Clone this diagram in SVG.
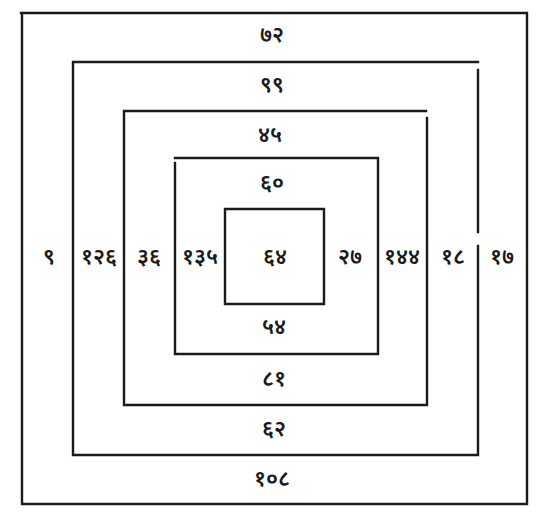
<svg xmlns="http://www.w3.org/2000/svg" width="548" height="526" viewBox="0 0 548 526">
<style>
.ln{stroke:#1a1a1a;stroke-width:2.4;fill:none;stroke-linecap:square}
.t{font-family:"Noto Sans Devanagari","Lohit Devanagari","Noto Sans","DejaVu Sans",sans-serif;font-size:22px;font-weight:600;fill:#1a1a1a;text-anchor:middle;dominant-baseline:central}
</style>
<rect width="548" height="526" fill="#ffffff"/>
<g id="connectors">
<path class="ln" d="M21,13 L527,13 M527,13 L527,504 M23,504 L527,504 M22,13 L22,504"/>
<path class="ln" d="M73,62 L478,62 M478,70 L478,232 M478,246 L478,455 M74,455 L478,455 M73,62 L73,455"/>
<path class="ln" d="M124,111 L426,111 M427,118 L427,405 M124,405 L427,405 M124,111 L124,405"/>
<path class="ln" d="M175,158 L378,158 M378,160 L378,354 M176,354 L378,354 M175,163 L175,354"/>
<path class="ln" d="M225,209 L324,209 M324,209 L324,304 M226,304 L324,304 M225,209 L225,304"/>
</g>
<g id="ring-outer">
<text class="t" x="272" y="36">७२</text>
<text class="t" x="272" y="480">१०८</text>
<text class="t" x="49" y="258">९</text>
<text class="t" x="502" y="258">१७</text>
</g>
<g id="ring-3">
<text class="t" x="272" y="86">९९</text>
<text class="t" x="274" y="430">६२</text>
<text class="t" x="99" y="258">१२६</text>
<text class="t" x="453" y="258">१८</text>
</g>
<g id="ring-2">
<text class="t" x="270" y="136">४५</text>
<text class="t" x="274" y="380">८१</text>
<text class="t" x="149" y="258">३६</text>
<text class="t" x="402" y="258">१४४</text>
</g>
<g id="ring-1">
<text class="t" x="272" y="184">६०</text>
<text class="t" x="274" y="328">५४</text>
<text class="t" x="200" y="258">१३५</text>
<text class="t" x="350" y="258">२७</text>
</g>
<g id="center">
<text class="t" x="275" y="258">६४</text>
</g>
</svg>
